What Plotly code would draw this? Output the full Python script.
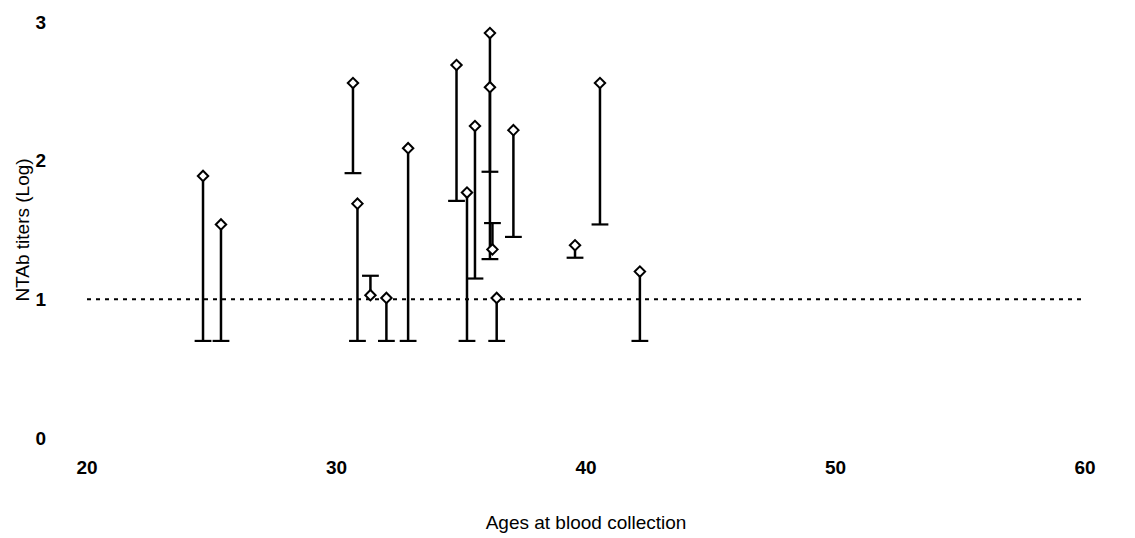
import plotly.graph_objects as go

# Ages (years) for each segment
ages = [24.65, 25.37, 30.66, 30.84, 31.36, 32.0, 32.87, 34.81, 35.23, 35.55,
        36.15, 36.15, 36.25, 36.42, 37.09, 39.56, 40.56, 42.16]
# Titer marked with a diamond (log)
titer_marked = [1.89, 1.54, 2.56, 1.69, 1.03, 1.01, 2.09, 2.69, 1.77, 2.25,
                2.92, 2.53, 1.36, 1.01, 2.22, 1.39, 2.56, 1.20]
# Titer at the other end of each segment (log)
titer_other = [0.70, 0.70, 1.91, 0.70, 1.17, 0.70, 0.70, 1.71, 0.70, 1.15,
               1.92, 1.29, 1.55, 0.70, 1.45, 1.30, 1.54, 0.70]

cutoff = 1.0
x_ticks = [20, 30, 40, 50, 60]
y_ticks = [0, 1, 2, 3]

seg_x, seg_y = [], []
for a, m, o in zip(ages, titer_marked, titer_other):
    seg_x += [a, a, None]
    seg_y += [m, o, None]

fig = go.Figure()
fig.add_trace(go.Scatter(x=[20, 60], y=[cutoff, cutoff], mode="lines",
                         line=dict(color="black", width=2, dash="4px,5px"),
                         hoverinfo="skip"))
fig.add_trace(go.Scatter(x=seg_x, y=seg_y, mode="lines",
                         line=dict(color="black", width=2.5), hoverinfo="skip"))
fig.add_trace(go.Scatter(x=ages, y=titer_other, mode="markers",
                         marker=dict(symbol="line-ew-open", size=12, color="black",
                                     line=dict(color="black", width=2.2)),
                         hoverinfo="skip"))
fig.add_trace(go.Scatter(x=ages, y=titer_marked, mode="markers",
                         marker=dict(symbol="diamond", size=8, color="white",
                                     line=dict(color="black", width=2))))

fig.update_layout(
    width=1127, height=530,
    margin=dict(l=79, r=50, t=14, b=100),
    paper_bgcolor="white", plot_bgcolor="white",
    showlegend=False,
    font=dict(family="Liberation Sans, Arial, sans-serif", color="black"),
)
fig.update_xaxes(range=[20, 60], tickvals=x_ticks, showgrid=False, zeroline=False,
                 showline=False, ticks="outside", ticklen=12, automargin=False,
                 tickcolor="rgba(0,0,0,0)",
                 tickfont=dict(size=19, family="Liberation Sans, Arial", weight="bold"),
                 title=dict(text="Ages at blood collection", font=dict(size=19),
                            standoff=38))
fig.update_yaxes(range=[0, 3], tickvals=y_ticks, showgrid=False, zeroline=False,
                 showline=False, ticks="outside", ticklen=36, automargin=False,
                 tickcolor="rgba(0,0,0,0)",
                 tickfont=dict(size=19, family="Liberation Sans, Arial", weight="bold"),
                 title=dict(text="NTAb titers (Log)", font=dict(size=19),
                            standoff=0))

fig.write_html("out.html")
